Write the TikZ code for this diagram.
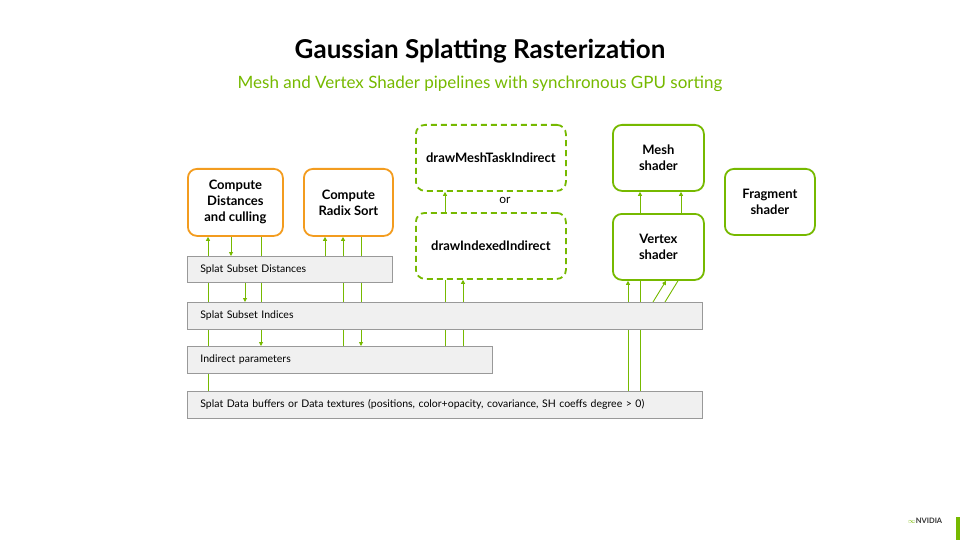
\documentclass[tikz,border=0pt]{standalone}
\usepackage{fontspec}
\setmainfont{Lato}
\usetikzlibrary{arrows.meta,backgrounds}
\definecolor{nvg}{HTML}{76B900}
\definecolor{org}{HTML}{F39C1F}
\begin{document}
\begin{tikzpicture}[x=1pt,y=-1pt,
 box/.style={draw=#1,fill=white,line width=1.8pt,rounded corners=9pt,align=center,font=\fontsize{13}{16}\selectfont,inner sep=0pt,anchor=north west},
 dbox/.style={box=nvg,dashed,dash pattern=on 6pt off 4pt},
 bar/.style={draw=black!40,fill=black!6,line width=0.8pt,anchor=north west,inner sep=0pt,font=\fontsize{10.5}{12}\selectfont,text height=7.5pt},
 ln/.style={draw=nvg,line width=0.9pt},
 arr/.style={ln,-{Triangle[length=4pt,width=4pt]}}]
\useasboundingbox (0,0) rectangle (960,540);
\node[font=\bfseries\fontsize{26}{30}\selectfont] (title) at (480,51) {Gaussian Splatting Rasterization};
\node[text=nvg,font=\fontsize{17}{20}\selectfont] (sub) at (480,84) {Mesh and Vertex Shader pipelines with synchronous GPU sorting};
% boxes
\node[box=org,minimum width=95pt,minimum height=67pt] (cd) at (187,168) {\textbf{Compute}\\\textbf{Distances}\\\textbf{and culling}};
\node[box=org,minimum width=89pt,minimum height=67pt] (rs) at (303,168) {\textbf{Compute}\\\textbf{Radix Sort}};
\node[dbox,minimum width=150pt,minimum height=66pt] (mt) at (415,124) {\textbf{drawMeshTaskIndirect}};
\node[dbox,minimum width=150pt,minimum height=66pt] (ii) at (415,212) {\textbf{drawIndexedIndirect}};
\node[font=\fontsize{12}{14}\selectfont] (or) at (505,200) {or};
\node[box=nvg,minimum width=91pt,minimum height=66pt] (ms) at (612,124) {\textbf{Mesh}\\\textbf{shader}};
\node[box=nvg,minimum width=91pt,minimum height=66pt] (vs) at (612,213) {\textbf{Vertex}\\\textbf{shader}};
\node[box=nvg,minimum width=90pt,minimum height=66pt] (fs) at (724,168) {\textbf{Fragment}\\\textbf{shader}};
% bars
\node[bar,minimum width=205pt,minimum height=26pt,text width=195pt] (sd) at (187,256) {\hspace*{8pt}Splat Subset Distances};
\node[bar,minimum width=515pt,minimum height=27pt,text width=505pt] (si) at (187,302) {\hspace*{8pt}Splat Subset Indices};
\node[bar,minimum width=305pt,minimum height=27pt,text width=295pt] (ip) at (187,346) {\hspace*{8pt}Indirect parameters};
\node[bar,minimum width=515pt,minimum height=27pt,text width=505pt] (sdb) at (187,391) {\hspace*{8pt}Splat Data buffers or Data textures (positions, color+opacity, covariance, SH coeffs degree > 0)};
% connectors
\begin{scope}[on background layer]
\draw[arr] ([xshift=21pt]sdb.north west) -- ([xshift=21pt]cd.south west);
\draw[arr] ([xshift=44pt]cd.south west) -- ([xshift=44pt]sd.north west);
\draw[arr] ([xshift=58pt]sd.south west) -- ([xshift=58pt]si.north west);
\draw[arr] ([xshift=74pt]cd.south west) -- ([xshift=74pt]ip.north west);
\draw[arr] ([xshift=138pt]sd.north west) -- ([xshift=22pt]rs.south west);
\draw[arr] ([xshift=156pt]ip.north west) -- ([xshift=40pt]rs.south west);
\draw[arr] ([xshift=58pt]rs.south west) -- ([xshift=174pt]ip.north west);
\draw[ln] ([xshift=258pt]ip.north west) -- ([xshift=30pt]ii.south west);
\draw[arr] ([xshift=276pt]ip.north west) -- ([xshift=48pt]ii.south west);
\draw[arr] ([xshift=30pt]ii.north west) -- ([xshift=30pt]mt.south west);
\draw[arr] ([xshift=441pt]sdb.north west) -- ([xshift=16pt]vs.south west);
\draw[ln] ([xshift=453pt]sdb.north west) -- ([xshift=28pt]vs.south west);
\draw[arr] ([xshift=466pt]si.north west) -- ([xshift=54pt]vs.south west);
\draw[ln] ([xshift=478pt]si.north west) -- ([xshift=66pt]vs.south west);
\draw[arr] ([xshift=28pt]vs.north west) -- ([xshift=28pt]ms.south west);
\draw[arr] ([xshift=69pt]vs.north west) -- ([xshift=69pt]ms.south west);
\end{scope}
% logo
\fill[nvg] (956,517) rectangle (960,540);
\node[font=\bfseries\fontsize{7.5}{8}\selectfont,text=black!80] (logo) at (925,521) {{\color{nvg}$\infty$}NVIDIA};
\end{tikzpicture}
\end{document}
